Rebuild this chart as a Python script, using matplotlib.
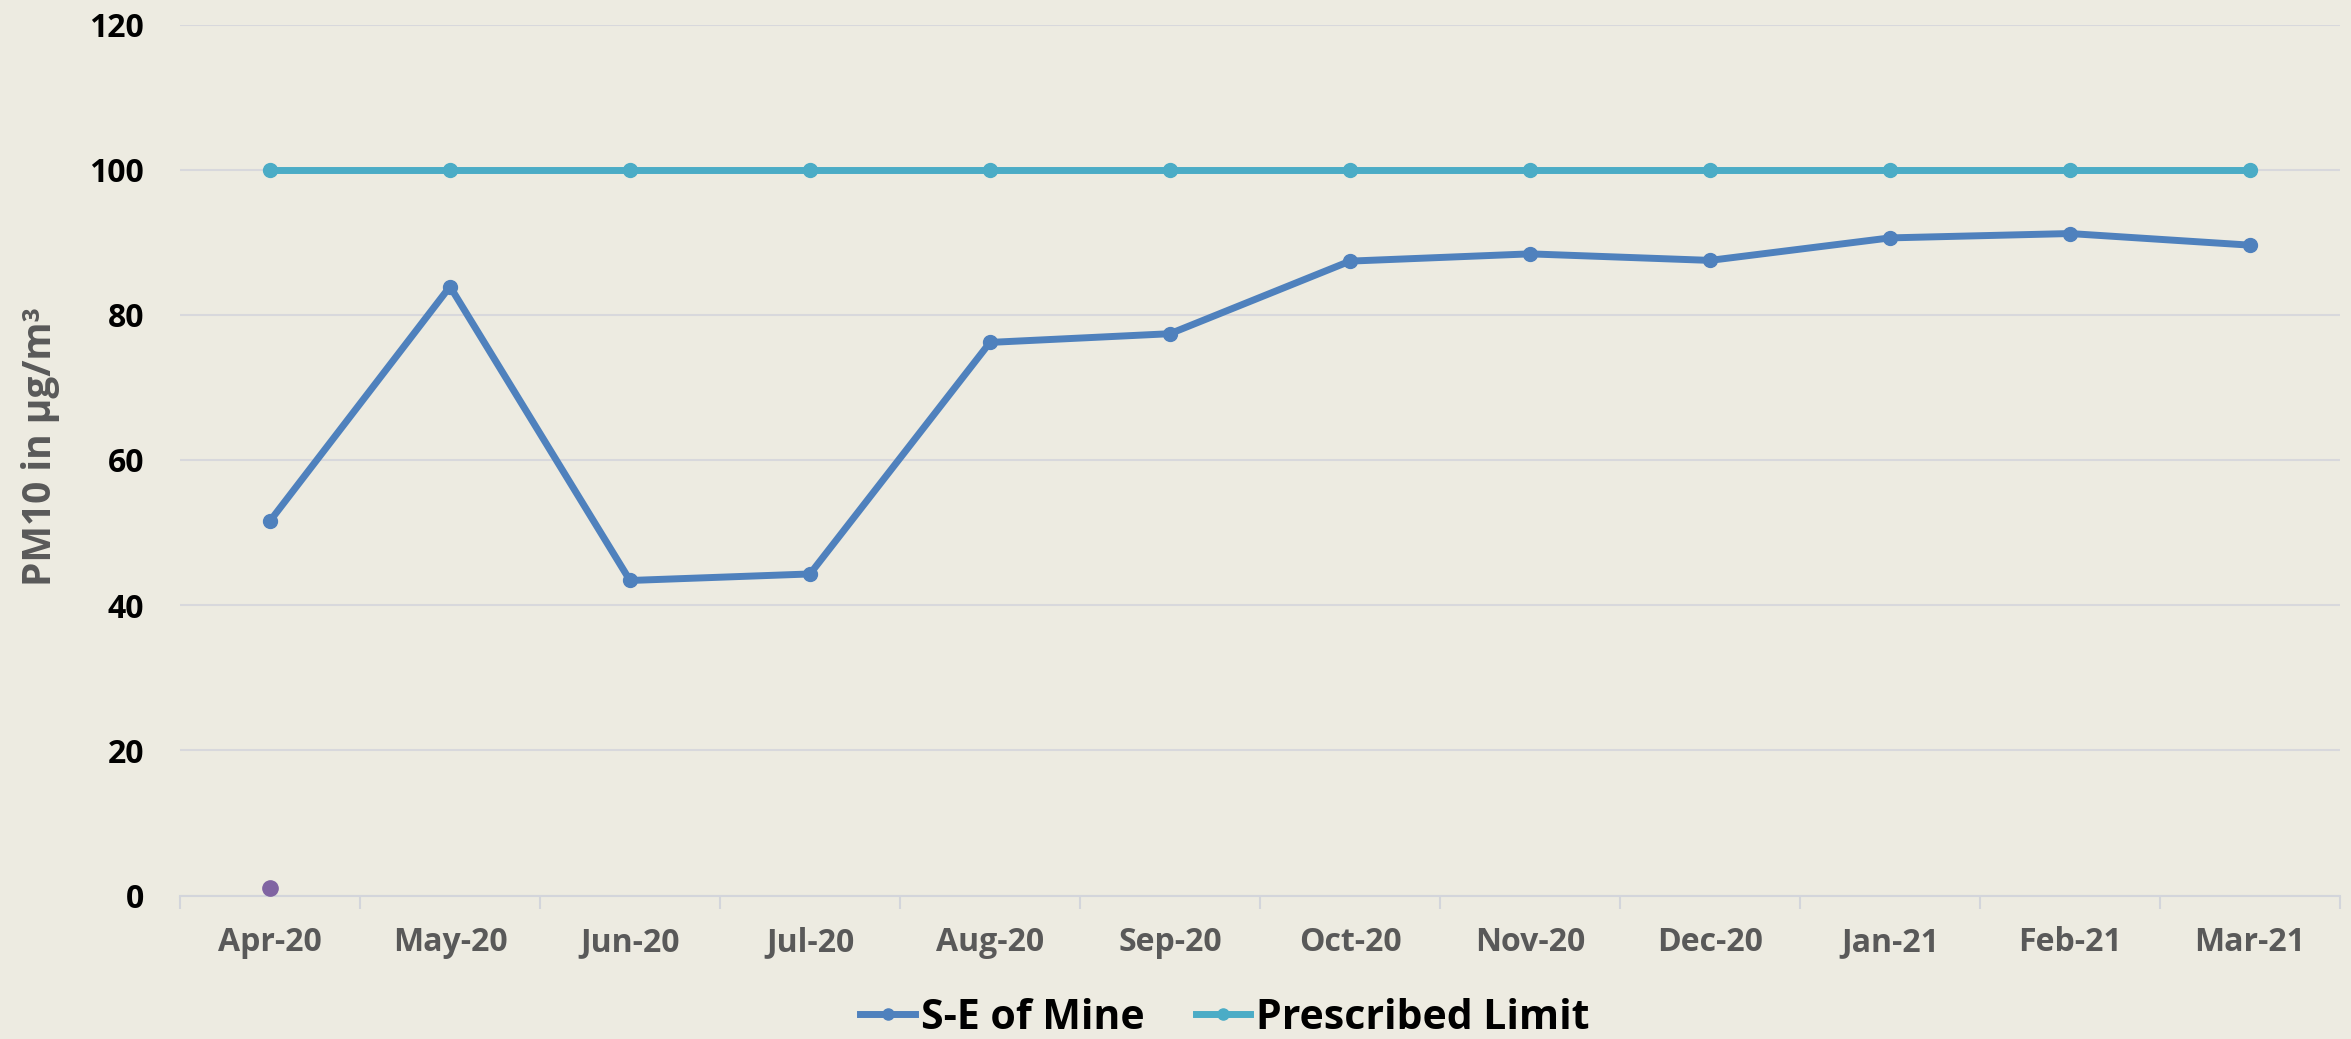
import matplotlib
matplotlib.use("Agg")
import matplotlib.pyplot as plt
import numpy as np

months = ["Apr-20", "May-20", "Jun-20", "Jul-20", "Aug-20", "Sep-20",
          "Oct-20", "Nov-20", "Dec-20", "Jan-21", "Feb-21", "Mar-21"]
se_mine = [51.6, 83.9, 43.4, 44.3, 76.2, 77.4, 87.4, 88.4, 87.5, 90.6, 91.2, 89.6]
prescribed_limit = [100] * 12
# stray point in the original chart (no legend entry)
extra_series = [1.0] + [np.nan] * 11

bg = "#EDEBE1"
plt.rcParams['font.family'] = ['Open Sans', 'DejaVu Sans']

fig = plt.figure(figsize=(23.51, 10.39), dpi=100, facecolor=bg)
ax = fig.add_axes([180 / 2351, 1 - 895.5 / 1039, 2160 / 2351, 871 / 1039])
ax.set_facecolor(bg)

x = np.arange(len(months))
ax.plot(x, se_mine, color="#4F81BD", lw=5, marker="o", ms=10, label="S-E of Mine", zorder=3)
ax.plot(x, prescribed_limit, color="#4BACC6", lw=5, marker="o", ms=10, label="Prescribed Limit", zorder=3)
ax.plot(x, extra_series, color="#8064A2", lw=0, marker="o", ms=11, label="_nolegend_", zorder=3)

ax.set_xlim(-0.5, len(months) - 0.5)
ax.set_ylim(0, 120)
ax.set_yticks(range(0, 121, 20))
ax.grid(axis="y", color="#D8D8DC", lw=1.5, zorder=0)
ax.set_axisbelow(True)

for s in ["top", "right", "left"]:
    ax.spines[s].set_visible(False)
ax.spines["bottom"].set_color("#D3D5DB")
ax.spines["bottom"].set_linewidth(1.5)

ax.set_xticks(x)
ax.set_xticklabels(months)
ax.set_xticks(np.arange(-0.5, len(months), 1), minor=True)
ax.tick_params(axis="x", which="major", length=0, pad=22, labelsize=23, labelcolor="#595959")
ax.tick_params(axis="x", which="minor", length=9, width=1.5, color="#D3D5DB")
for t in ax.get_xticklabels():
    t.set_fontweight("bold")
ax.tick_params(axis="y", length=0, pad=26, labelsize=23, labelcolor="black")
for t in ax.get_yticklabels():
    t.set_fontweight("bold")

ax.set_ylabel("PM10 in µg/m³", fontsize=28, fontweight="bold", color="#595959")
ax.yaxis.set_label_coords(-0.0555, 0.515)

leg = fig.legend(loc="center", bbox_to_anchor=(0.521, 0.02), ncol=2, frameon=False,
                 prop={"weight": "bold", "size": 29.5}, handlelength=1.32,
                 handletextpad=0.15, columnspacing=1.25, markerscale=0.8)

fig.savefig("out.png", dpi=100, facecolor=bg)
